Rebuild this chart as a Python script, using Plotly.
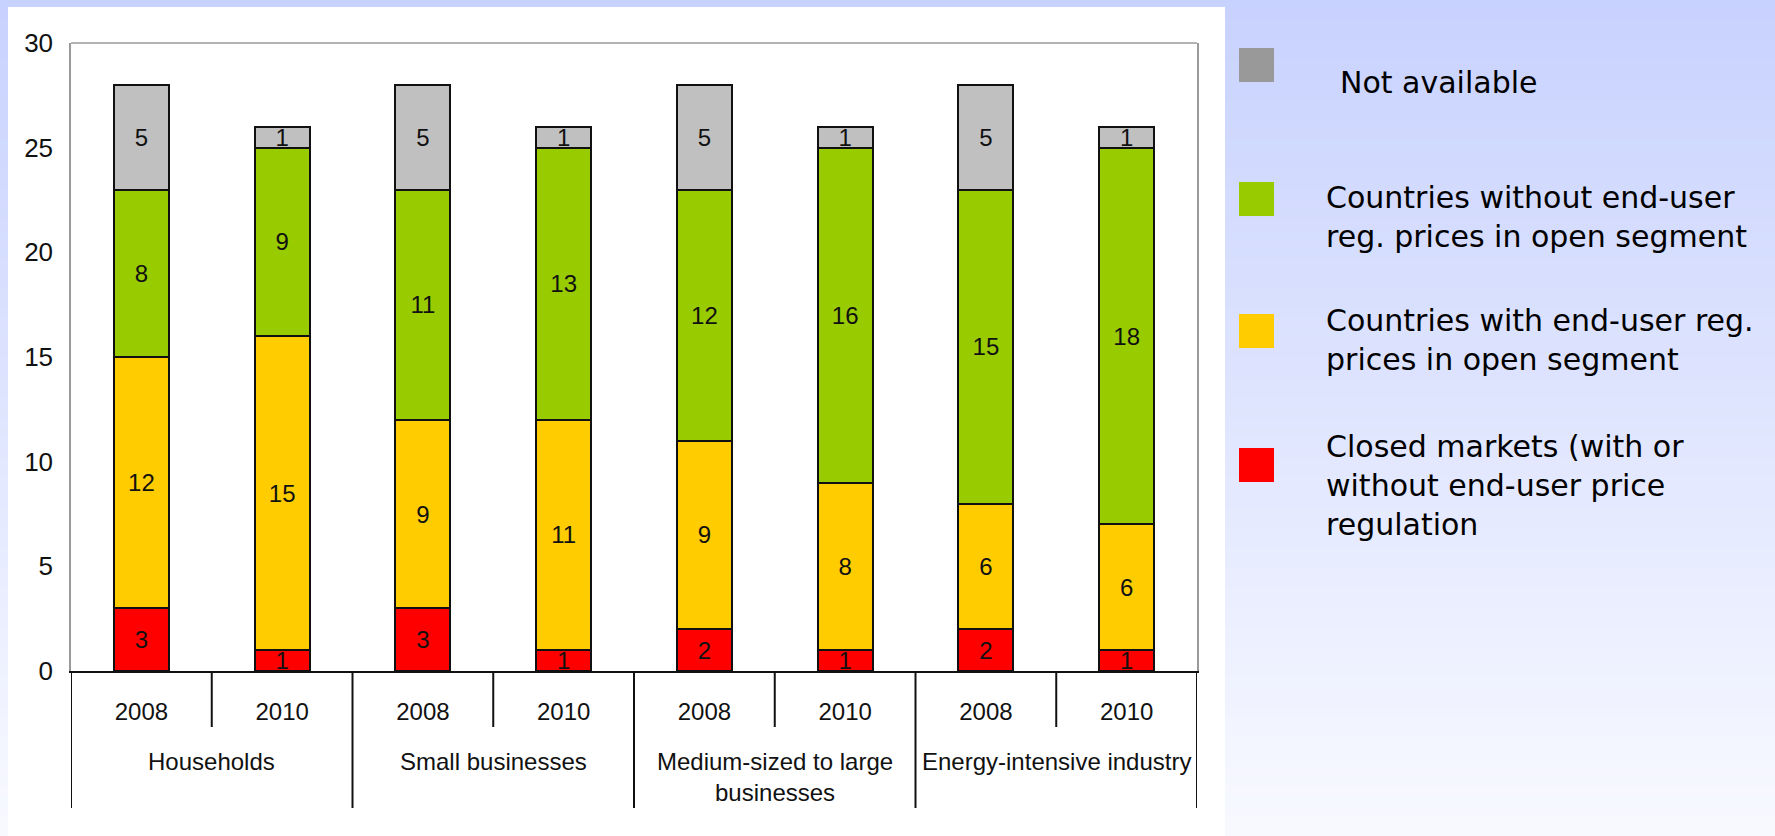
import plotly.graph_objects as go

# ---------------- data ----------------
groups = ["Households", "Small businesses", "Medium-sized to large<br>businesses", "Energy-intensive industry"]
years = ["2008", "2010"]
closed_markets = [3, 1, 3, 1, 2, 1, 2, 1]
with_reg_prices = [12, 15, 9, 11, 9, 8, 6, 6]
without_reg_prices = [8, 9, 11, 13, 12, 16, 15, 18]
not_available = [5, 1, 5, 1, 5, 1, 5, 1]
y_ticks = [0, 5, 10, 15, 20, 25, 30]
legend_labels = [
    "Not available",
    "Countries without end-user<br>reg. prices in open segment",
    "Countries with end-user reg.<br>prices in open segment",
    "Closed markets (with or<br>without end-user price<br>regulation",
]

# ---------------- layout geometry (pixels) ----------------
W, H = 1775, 836
PL, PR, PT, PB = 71, 1197, 43, 671


def px2x(px):
    return (px - PL) / (PR - PL)


def py2y(py):
    return (PB - py) / (PB - PT)


cats = [f"{g}|{y}" for g in groups for y in years]
tick_text = [y for g in groups for y in years]

bar_colors = ["#FF0000", "#FFCC00", "#99CC00", "#C0C0C0"]
series = [closed_markets, with_reg_prices, without_reg_prices, not_available]
names = [legend_labels[3], legend_labels[2], legend_labels[1], legend_labels[0]]

FONT = "Liberation Sans, Arial, sans-serif"

fig = go.Figure()
for vals, col, nm in zip(series, bar_colors, names):
    fig.add_trace(go.Bar(
        x=cats, y=vals, name=nm.replace("<br>", " "),
        marker=dict(color=col, line=dict(color="#111111", width=2)),
        text=vals, textposition="inside", insidetextanchor="middle",
        constraintext="none", textangle=0,
        textfont=dict(size=24, color="#111111", family=FONT),
        showlegend=False, hoverinfo="skip",
    ))

shapes = []
# gradient background bands
N = 84
top_c = (200, 210, 254)
bot_c = (248, 249, 255)
for i in range(N):
    t = i / (N - 1)
    c = tuple(round(top_c[k] + (bot_c[k] - top_c[k]) * t) for k in range(3))
    y0 = H * i / N
    y1 = H * (i + 1) / N + 1
    shapes.append(dict(type="rect", xref="paper", yref="paper", layer="below",
                       x0=px2x(0), x1=px2x(W), y0=py2y(y1), y1=py2y(y0),
                       fillcolor="rgb(%d,%d,%d)" % c, line=dict(width=0)))
# white chart panel
shapes.append(dict(type="rect", xref="paper", yref="paper", layer="below",
                   x0=px2x(8), x1=px2x(1225), y0=py2y(840), y1=py2y(7),
                   fillcolor="white", line=dict(width=0)))
# top frame line
shapes.append(dict(type="line", xref="paper", yref="paper",
                   x0=0, x1=1, y0=1, y1=1, line=dict(color="#9a9a9a", width=1.5)))
# dividers under the axis
n = len(cats)
for i in range(n + 1):
    pos = i - 0.5
    is_group = (i % len(years) == 0)
    shapes.append(dict(type="line", xref="x", yref="paper",
                       x0=pos, x1=pos, y0=0, y1=py2y(808 if is_group else 727),
                       line=dict(color="#111111", width=2)))

# legend squares
leg_colors = ["#999999", "#99CC00", "#FFCC00", "#FF0000"]
leg_sq_top = [48, 182, 314, 448]
for col, t in zip(leg_colors, leg_sq_top):
    shapes.append(dict(type="rect", xref="paper", yref="paper",
                       x0=px2x(1239), x1=px2x(1274), y0=py2y(t + 34), y1=py2y(t),
                       fillcolor=col, line=dict(width=0)))

annotations = []
# group labels
for gi, g in enumerate(groups):
    center = gi * len(years) + (len(years) - 1) / 2
    annotations.append(dict(xref="x", yref="paper", x=center, y=py2y(746),
                            text=g, showarrow=False, xanchor="center", yanchor="top",
                            font=dict(size=24, color="#111111", family=FONT)))
# legend texts
leg_text_x = [1338, 1324, 1324, 1324]
leg_text_cy = [82, 217, 340, 485]
for lab, lx, cy in zip(legend_labels, leg_text_x, leg_text_cy):
    annotations.append(dict(xref="paper", yref="paper", x=px2x(lx), y=py2y(cy),
                            text=lab, showarrow=False, xanchor="left", yanchor="middle",
                            align="left",
                            font=dict(size=30, color="#000000", family="DejaVu Sans, Verdana, sans-serif")))

fig.update_layout(
    width=W, height=H,
    margin=dict(l=PL, r=W - PR, t=PT, b=H - PB, pad=0),
    barmode="stack", bargap=0.61,
    paper_bgcolor="rgb(225,230,255)", plot_bgcolor="white",
    shapes=shapes, annotations=annotations,
    xaxis=dict(type="category", tickvals=cats, ticktext=tick_text,
               showline=True, linecolor="#111111", linewidth=2, mirror=False,
               ticks="", showgrid=False, ticklabelstandoff=18,
               tickfont=dict(size=24, color="#111111", family=FONT),
               range=[-0.5, n - 0.5]),
    yaxis=dict(range=[0, 30], tickvals=y_ticks, showgrid=False, zeroline=False,
               showline=True, linecolor="#9a9a9a", linewidth=1.5, mirror=True,
               ticks="", ticklabelstandoff=11,
               tickfont=dict(size=26, color="#111111", family=FONT)),
)

fig.write_html("out.html")
